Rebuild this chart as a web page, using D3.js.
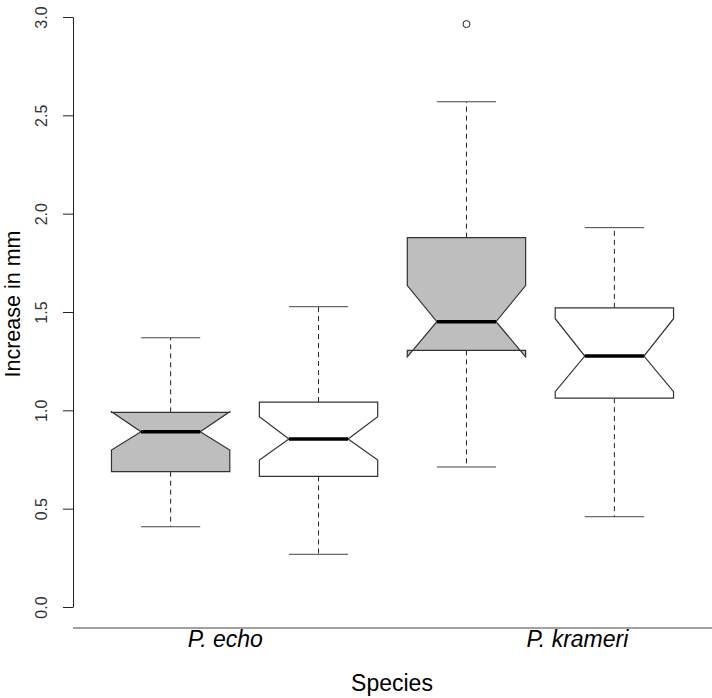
<!DOCTYPE html>
<html>
<head>
<meta charset="utf-8">
<script src="https://cdn.jsdelivr.net/npm/d3@7"></script>
<style>
  body { margin: 0; background: #fff; }
  text { font-family: Arial, "Liberation Sans", sans-serif; }
</style>
</head>
<body>
<div id="chart"></div>
<script>
// box statistics, one entry per box
const groups      = ["P. echo", "P. krameri"];
const groupAt     = [1.37, 3.75];
const boxFill     = ["#bebebe", "#ffffff", "#bebebe", "#ffffff"];
const whiskerLo   = [0.408, 0.268, 0.712, 0.459];
const q1          = [0.688, 0.664, 1.305, 1.062];
const median      = [0.891, 0.854, 1.451, 1.276];
const q3          = [0.990, 1.042, 1.878, 1.521];
const whiskerHi   = [1.369, 1.527, 2.569, 1.929];
const notchLo     = [0.798, 0.747, 1.272, 1.095];
const notchHi     = [0.993, 0.968, 1.634, 1.466];
const outliers    = [[], [], [2.964], []];
const yTicks      = [0, 0.5, 1, 1.5, 2, 2.5, 3];

class NotchedBoxplot
{
    constructor(_config)
    {
        this.config =
        {
            parentElement: _config.parentElement,
            containerWidth: _config.containerWidth || 712,
            containerHeight: _config.containerHeight || 698,
            boxWidth: 0.8,
            capWidth: 0.4
        }
        this.initVis();
    }

    initVis()
    {
        let vis = this;

        vis.svg = d3.select(vis.config.parentElement).append('svg')
            .attr('width', vis.config.containerWidth)
            .attr('height', vis.config.containerHeight);

        vis.x = d3.scaleLinear().domain([0.34, 4.66]).range([73, 712]);
        vis.y = d3.scaleLinear().domain([0, 3]).range([607, 17]);

        // y axis
        let yAxis = vis.svg.append('g')
            .attr('transform', 'translate(73,0)')
            .call(d3.axisLeft(vis.y).tickValues(yTicks).tickSize(10).tickSizeOuter(0)
                .tickFormat(d3.format('.1f')));
        yAxis.select('.domain').attr('stroke', '#222');
        yAxis.selectAll('.tick line').attr('stroke', '#222');
        yAxis.selectAll('.tick text')
            .attr('font-size', 16)
            .attr('fill', '#333')
            .attr('text-anchor', 'middle')
            .attr('x', 0).attr('dy', 0)
            .attr('transform', 'translate(-26,0) rotate(-90)');

        // bottom line
        vis.svg.append('line')
            .attr('x1', vis.x.range()[0]).attr('x2', vis.x.range()[1])
            .attr('y1', 628).attr('y2', 628)
            .attr('stroke', '#444');

        vis.svg.selectAll('.grp')
            .data(groups)
            .enter().append('text')
            .attr('x', (d, i) => vis.x(groupAt[i]))
            .attr('y', 647)
            .attr('text-anchor', 'middle')
            .attr('font-size', 23)
            .attr('font-style', 'italic')
            .text(d => d);

        vis.svg.append('text')
            .attr('x', 392).attr('y', 691)
            .attr('text-anchor', 'middle')
            .attr('font-size', 23)
            .text('Species');

        vis.svg.append('text')
            .attr('transform', 'translate(20,304) rotate(-90)')
            .attr('text-anchor', 'middle')
            .attr('font-size', 21.5)
            .text('Increase in mm');

        vis.drawBoxes();
    }

    drawBoxes()
    {
        let vis = this;
        let idx = d3.range(median.length);
        let half = vis.config.boxWidth / 2;
        let cap = vis.config.capWidth / 2;

        let g = vis.svg.append('g').selectAll('g')
            .data(idx)
            .enter().append('g');

        // whiskers
        g.append('line')
            .attr('x1', i => vis.x(i + 1)).attr('x2', i => vis.x(i + 1))
            .attr('y1', i => vis.y(q3[i])).attr('y2', i => vis.y(whiskerHi[i]))
            .attr('stroke', '#222').attr('stroke-dasharray', '5,4');
        g.append('line')
            .attr('x1', i => vis.x(i + 1)).attr('x2', i => vis.x(i + 1))
            .attr('y1', i => vis.y(q1[i])).attr('y2', i => vis.y(whiskerLo[i]))
            .attr('stroke', '#222').attr('stroke-dasharray', '5,4');
        g.append('line')
            .attr('x1', i => vis.x(i + 1 - cap)).attr('x2', i => vis.x(i + 1 + cap))
            .attr('y1', i => vis.y(whiskerHi[i])).attr('y2', i => vis.y(whiskerHi[i]))
            .attr('stroke', '#444');
        g.append('line')
            .attr('x1', i => vis.x(i + 1 - cap)).attr('x2', i => vis.x(i + 1 + cap))
            .attr('y1', i => vis.y(whiskerLo[i])).attr('y2', i => vis.y(whiskerLo[i]))
            .attr('stroke', '#444');

        // notched box, R style polygon
        g.append('path')
            .attr('d', i => {
                let c = i + 1;
                let pts = [
                    [c - half, q1[i]], [c - half, notchLo[i]], [c - half / 2, median[i]],
                    [c - half, notchHi[i]], [c - half, q3[i]], [c + half, q3[i]],
                    [c + half, notchHi[i]], [c + half / 2, median[i]], [c + half, notchLo[i]],
                    [c + half, q1[i]]
                ];
                return d3.line().x(p => vis.x(p[0])).y(p => vis.y(p[1]))(pts) + 'Z';
            })
            .attr('fill', i => boxFill[i])
            .attr('stroke', '#333')
            .attr('stroke-width', 1.2);

        g.append('line')
            .attr('x1', i => vis.x(i + 1 - half / 2)).attr('x2', i => vis.x(i + 1 + half / 2))
            .attr('y1', i => vis.y(median[i])).attr('y2', i => vis.y(median[i]))
            .attr('stroke', '#000').attr('stroke-width', 3.5);

        g.selectAll('circle')
            .data(i => outliers[i].map(v => ({ i: i, v: v })))
            .enter().append('circle')
            .attr('cx', d => vis.x(d.i + 1))
            .attr('cy', d => vis.y(d.v))
            .attr('r', 3.5)
            .attr('fill', 'none')
            .attr('stroke', '#222');
    }
}

new NotchedBoxplot({ parentElement: '#chart' });
</script>
</body>
</html>
